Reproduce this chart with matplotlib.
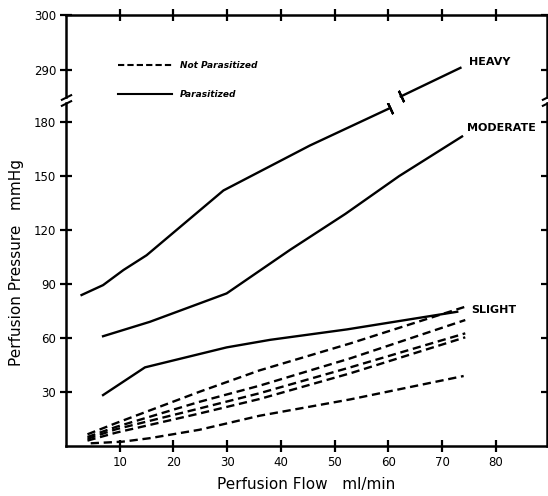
import matplotlib
matplotlib.use("Agg")
import matplotlib.pyplot as plt
from matplotlib.lines import Line2D

# solid curves (parasitized)
heavy_x = [2.9, 6.9, 10.7, 15.0, 29.3, 45.4, 60.3]
heavy_y = [83.9, 89.4, 97.8, 106, 142, 167, 187.8]
heavy_top_x = [62.3, 73.4]
heavy_top_y = [285.2, 290.4]

moderate_x = [6.9, 15.6, 29.9, 41.7, 52, 62, 73.7]
moderate_y = [61, 69, 84.8, 109, 129, 150, 172]

slight_x = [6.9, 14.7, 29.9, 38, 52.3, 72.8]
slight_y = [28.3, 43.7, 54.8, 59, 64.8, 74.6]

# dashed curves (not parasitized)
dash_x = [4, 9.3, 24.9, 36, 52.9, 74.3]
dash_a = [6.5, 12.7, 30.2, 42, 57, 77.4]
dash_b = [5, 10.6, 24.6, 33.5, 48.7, 70]
dash_c = [4, 9.3, 20.9, 29.3, 43.7, 62.6]
dash_d = [3, 7.4, 18.1, 26.1, 40.4, 60.4]
dash_e_x = [4.6, 10.5, 15.5, 24.8, 30, 36, 52.9, 74]
dash_e = [1.5, 2.4, 4.3, 9, 12.6, 16.8, 25.9, 38.9]

x_ticks = [10, 20, 30, 40, 50, 60, 70, 80]
y_ticks_low = [30, 60, 90, 120, 150, 180]
y_ticks_top = [290, 300]

fig = plt.figure(figsize=(5.48, 4.96), dpi=100)
ax_top = fig.add_axes([0.1204, 1 - 97 / 496, 0.8777, 82 / 496])
ax_bot = fig.add_axes([0.1204, 0.1008, 0.8777, 343 / 496])

LW = 1.7
for ax in (ax_top, ax_bot):
    ax.set_xlim(0, 89.5)
    for s in ax.spines.values():
        s.set_linewidth(1.8)
    ax.tick_params(direction='inout', length=8, width=1.6, labelsize=8.5, pad=3)

ax_top.set_ylim(285.1, 300)
ax_bot.set_ylim(0, 190.6)
ax_top.spines['bottom'].set_visible(False)
ax_bot.spines['top'].set_visible(False)

ax_top.set_xticks(x_ticks)
ax_top.tick_params(axis='x', bottom=False, top=True, labelbottom=False)
ax_top.set_yticks(y_ticks_top)
ax_top.tick_params(axis='y', right=True)
ax_bot.set_xticks(x_ticks)
ax_bot.set_yticks(y_ticks_low)
ax_bot.tick_params(axis='y', right=True)

# parasitized
ax_bot.plot(heavy_x, heavy_y, color='black', lw=LW, marker=(2, 2, 25), markevery=[-1],
            markersize=9, markeredgewidth=1.6)
ax_top.plot(heavy_top_x, heavy_top_y, color='black', lw=LW, marker=(2, 2, 25), markevery=[0],
            markersize=9, markeredgewidth=1.6, clip_on=False)
ax_bot.plot(moderate_x, moderate_y, color='black', lw=LW)
ax_bot.plot(slight_x, slight_y, color='black', lw=LW)

# not parasitized
for ys in (dash_a, dash_b, dash_c, dash_d):
    ax_bot.plot(dash_x, ys, color='black', lw=LW, dashes=(3.5, 2))
ax_bot.plot(dash_e_x, dash_e, color='black', lw=LW, dashes=(3.5, 2))

# labels on the curves
ax_top.text(75, 291.5, 'HEAVY', fontsize=8, fontweight='bold', va='center')
ax_bot.text(74.7, 176.7, 'MODERATE', fontsize=8, fontweight='bold', va='center')
ax_bot.text(75.4, 75.6, 'SLIGHT', fontsize=8, fontweight='bold', va='center')

# axis break marks
kw = dict(marker=[(-1, -0.5), (1, 0.5)], markersize=8, linestyle='none',
          color='black', mec='black', mew=1.5, clip_on=False)
ax_top.plot([0, 1], [0, 0], transform=ax_top.transAxes, **kw)
ax_bot.plot([0, 1], [1, 1], transform=ax_bot.transAxes, **kw)

handles = [Line2D([], [], color='black', lw=1.5, dashes=(3, 1.5)),
           Line2D([], [], color='black', lw=1.5)]
fig.legend(handles, ['Not Parasitized', 'Parasitized'], loc='upper left',
           bbox_to_anchor=(118 / 548, 1 - 61 / 496), frameon=False,
           handlelength=6, handletextpad=0.9, labelspacing=2.2,
           borderpad=0, borderaxespad=0, prop={'style': 'italic', 'weight': 'bold', 'size': 6.5})

ax_bot.set_xlabel('Perfusion Flow   ml/min', fontsize=11, labelpad=6)
fig.text(0.03, 0.47, 'Perfusion Pressure   mmHg', rotation=90, fontsize=11,
         ha='center', va='center')

fig.savefig('out.png', dpi=100)
